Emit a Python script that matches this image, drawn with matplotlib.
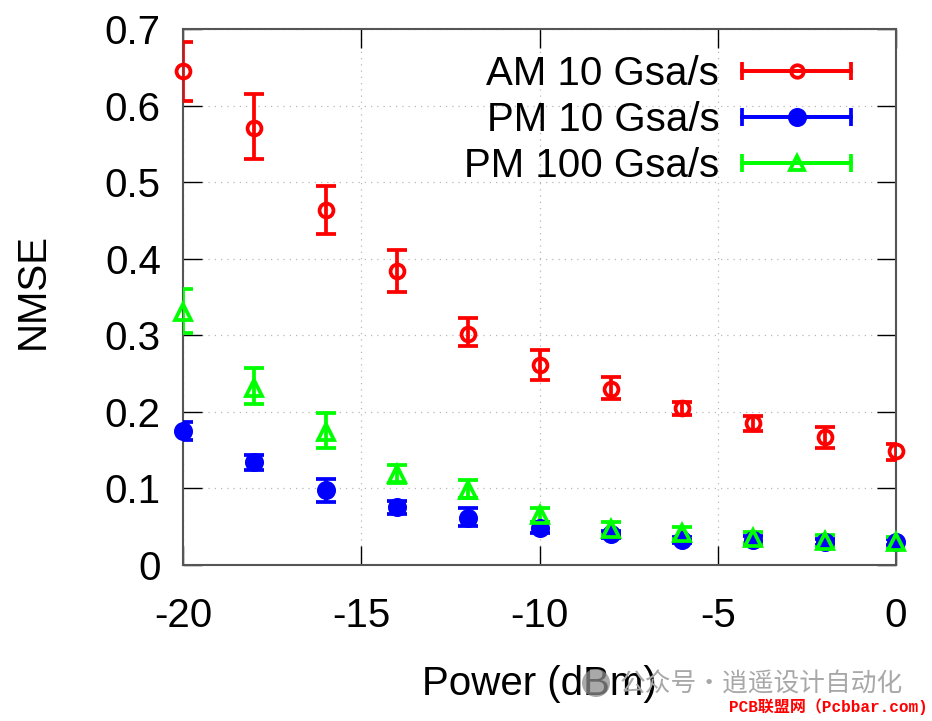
import matplotlib
matplotlib.use("Agg")
import matplotlib.pyplot as plt
import numpy as np
from matplotlib.legend_handler import HandlerErrorbar
from matplotlib.patches import Ellipse

plt.rcParams["font.family"] = ["Liberation Sans", "DejaVu Sans"]
plt.rcParams["axes.unicode_minus"] = False

power = [-20, -18, -16, -14, -12, -10, -8, -6, -4, -2, 0]

am10 = [0.645, 0.571, 0.464, 0.384, 0.302, 0.261, 0.230, 0.205, 0.185, 0.167, 0.149]
am10_lo = [0.606, 0.530, 0.432, 0.357, 0.286, 0.242, 0.217, 0.196, 0.175, 0.153, 0.137]
am10_hi = [0.683, 0.615, 0.495, 0.411, 0.323, 0.281, 0.245, 0.213, 0.195, 0.180, 0.158]

pm10 = [0.175, 0.134, 0.098, 0.076, 0.062, 0.048, 0.040, 0.033, 0.033, 0.030, 0.030]
pm10_lo = [0.163, 0.124, 0.082, 0.066, 0.051, 0.042, 0.035, 0.029, 0.028, 0.026, 0.026]
pm10_hi = [0.187, 0.144, 0.112, 0.083, 0.074, 0.056, 0.045, 0.037, 0.038, 0.034, 0.034]

pm100 = [0.330, 0.231, 0.174, 0.119, 0.098, 0.065, 0.047, 0.042, 0.035, 0.031, 0.030]
pm100_lo = [0.303, 0.210, 0.153, 0.107, 0.087, 0.056, 0.039, 0.034, 0.029, 0.024, 0.021]
pm100_hi = [0.360, 0.257, 0.198, 0.130, 0.111, 0.075, 0.056, 0.050, 0.043, 0.039, 0.037]

labels = ["AM 10 Gsa/s", "PM 10 Gsa/s", "PM 100 Gsa/s"]
x_ticks = [-20, -15, -10, -5, 0]
y_ticks = [0, 0.1, 0.2, 0.3, 0.4, 0.5, 0.6, 0.7]
y_ticklabels = ["0", "0.1", "0.2", "0.3", "0.4", "0.5", "0.6", "0.7"]

SPINE = "#555555"
LW = 2.7


def draw_series(ax, y, lo, hi, color, marker, filled, label, ms, legend_ms):
    y = np.asarray(y)
    yerr = [y - np.asarray(lo), np.asarray(hi) - y]
    # caps get clipped at the frame, markers do not
    ax.errorbar(power, y, yerr=yerr, fmt="none", ecolor=color, elinewidth=LW,
                capsize=7, capthick=LW, zorder=3)
    ax.plot(power, y, ls="none", marker=marker, ms=ms, mew=LW, mec=color,
            mfc=color if filled else "none", clip_on=False, zorder=4)
    # legend entry only: nan keeps it off the plot, caplines need a non-empty array
    return ax.errorbar([np.nan], [np.nan], xerr=[np.nan], color=color, lw=LW, elinewidth=LW,
                       marker=marker, ms=legend_ms, mew=LW, mec=color,
                       mfc=color if filled else "none",
                       capsize=6.5, capthick=LW, label=label)


fig = plt.figure(figsize=(9.32, 7.21), dpi=100)
ax = fig.add_axes([183 / 932, 1 - 565 / 721, (896 - 183) / 932, (565 - 29) / 721])

handles = [
    draw_series(ax, am10, am10_lo, am10_hi, "#ff0000", "o", False, labels[0], 10, 9),
    draw_series(ax, pm10, pm10_lo, pm10_hi, "#0000ff", "o", True, labels[1], 11, 11),
    draw_series(ax, pm100, pm100_lo, pm100_hi, "#00ff00", "^", False, labels[2], 11, 10),
]

ax.set_xlim(-20, 0)
ax.set_ylim(0, 0.7)
ax.set_xticks(x_ticks)
ax.set_yticks(y_ticks)
ax.set_yticklabels(y_ticklabels)
ax.tick_params(axis="x", direction="in", length=14, width=1, top=True, pad=23, labelsize=29)
ax.tick_params(axis="y", direction="in", length=14, width=1, right=True, pad=16, labelsize=29)
ax.grid(True, ls=(0, (1, 4)), color="#b8b8b8", lw=0.9)
ax.set_axisbelow(True)
for spine in ax.spines.values():
    spine.set_color(SPINE)
    spine.set_linewidth(1.5)

ax.set_xlabel("Power (dBm)", fontsize=29)
ax.xaxis.set_label_coords(0.5, -0.187)
ax.set_ylabel("NMSE", fontsize=29)
ax.yaxis.set_label_coords(-0.184, 0.512)

ax.legend(
    handles=handles,
    loc="upper right",
    bbox_to_anchor=(0.937, 0.951),
    frameon=False,
    fontsize=29,
    markerfirst=False,
    alignment="right",
    handlelength=2.7,
    handletextpad=0.57,
    labelspacing=0.195,
    borderpad=0,
    borderaxespad=0,
    handler_map={type(handles[0]): HandlerErrorbar(xerr_size=1.35, numpoints=1)},
)

# watermarks at the bottom of the screenshot
fig.add_artist(Ellipse((596 / 932, 1 - 683 / 721), 28 / 932, 28 / 721, color="#8c8c8c",
                       alpha=0.75, lw=0, transform=fig.transFigure, zorder=5))
fig.text(903 / 932, 1 - 685 / 721, "公众号·逍遥设计自动化", color="#a8a8a8", fontsize=18.5,
         ha="right", va="center", family=["Noto Sans CJK SC", "DejaVu Sans"], zorder=6)
fig.text(928 / 932, 1 - 707 / 721, "PCB联盟网（Pcbbar.com)", color="#ff0000", fontsize=11.5,
         fontweight="bold", ha="right", va="center",
         family=["Liberation Mono", "Noto Sans CJK SC"], zorder=6)

fig.savefig("out.png", dpi=100)
